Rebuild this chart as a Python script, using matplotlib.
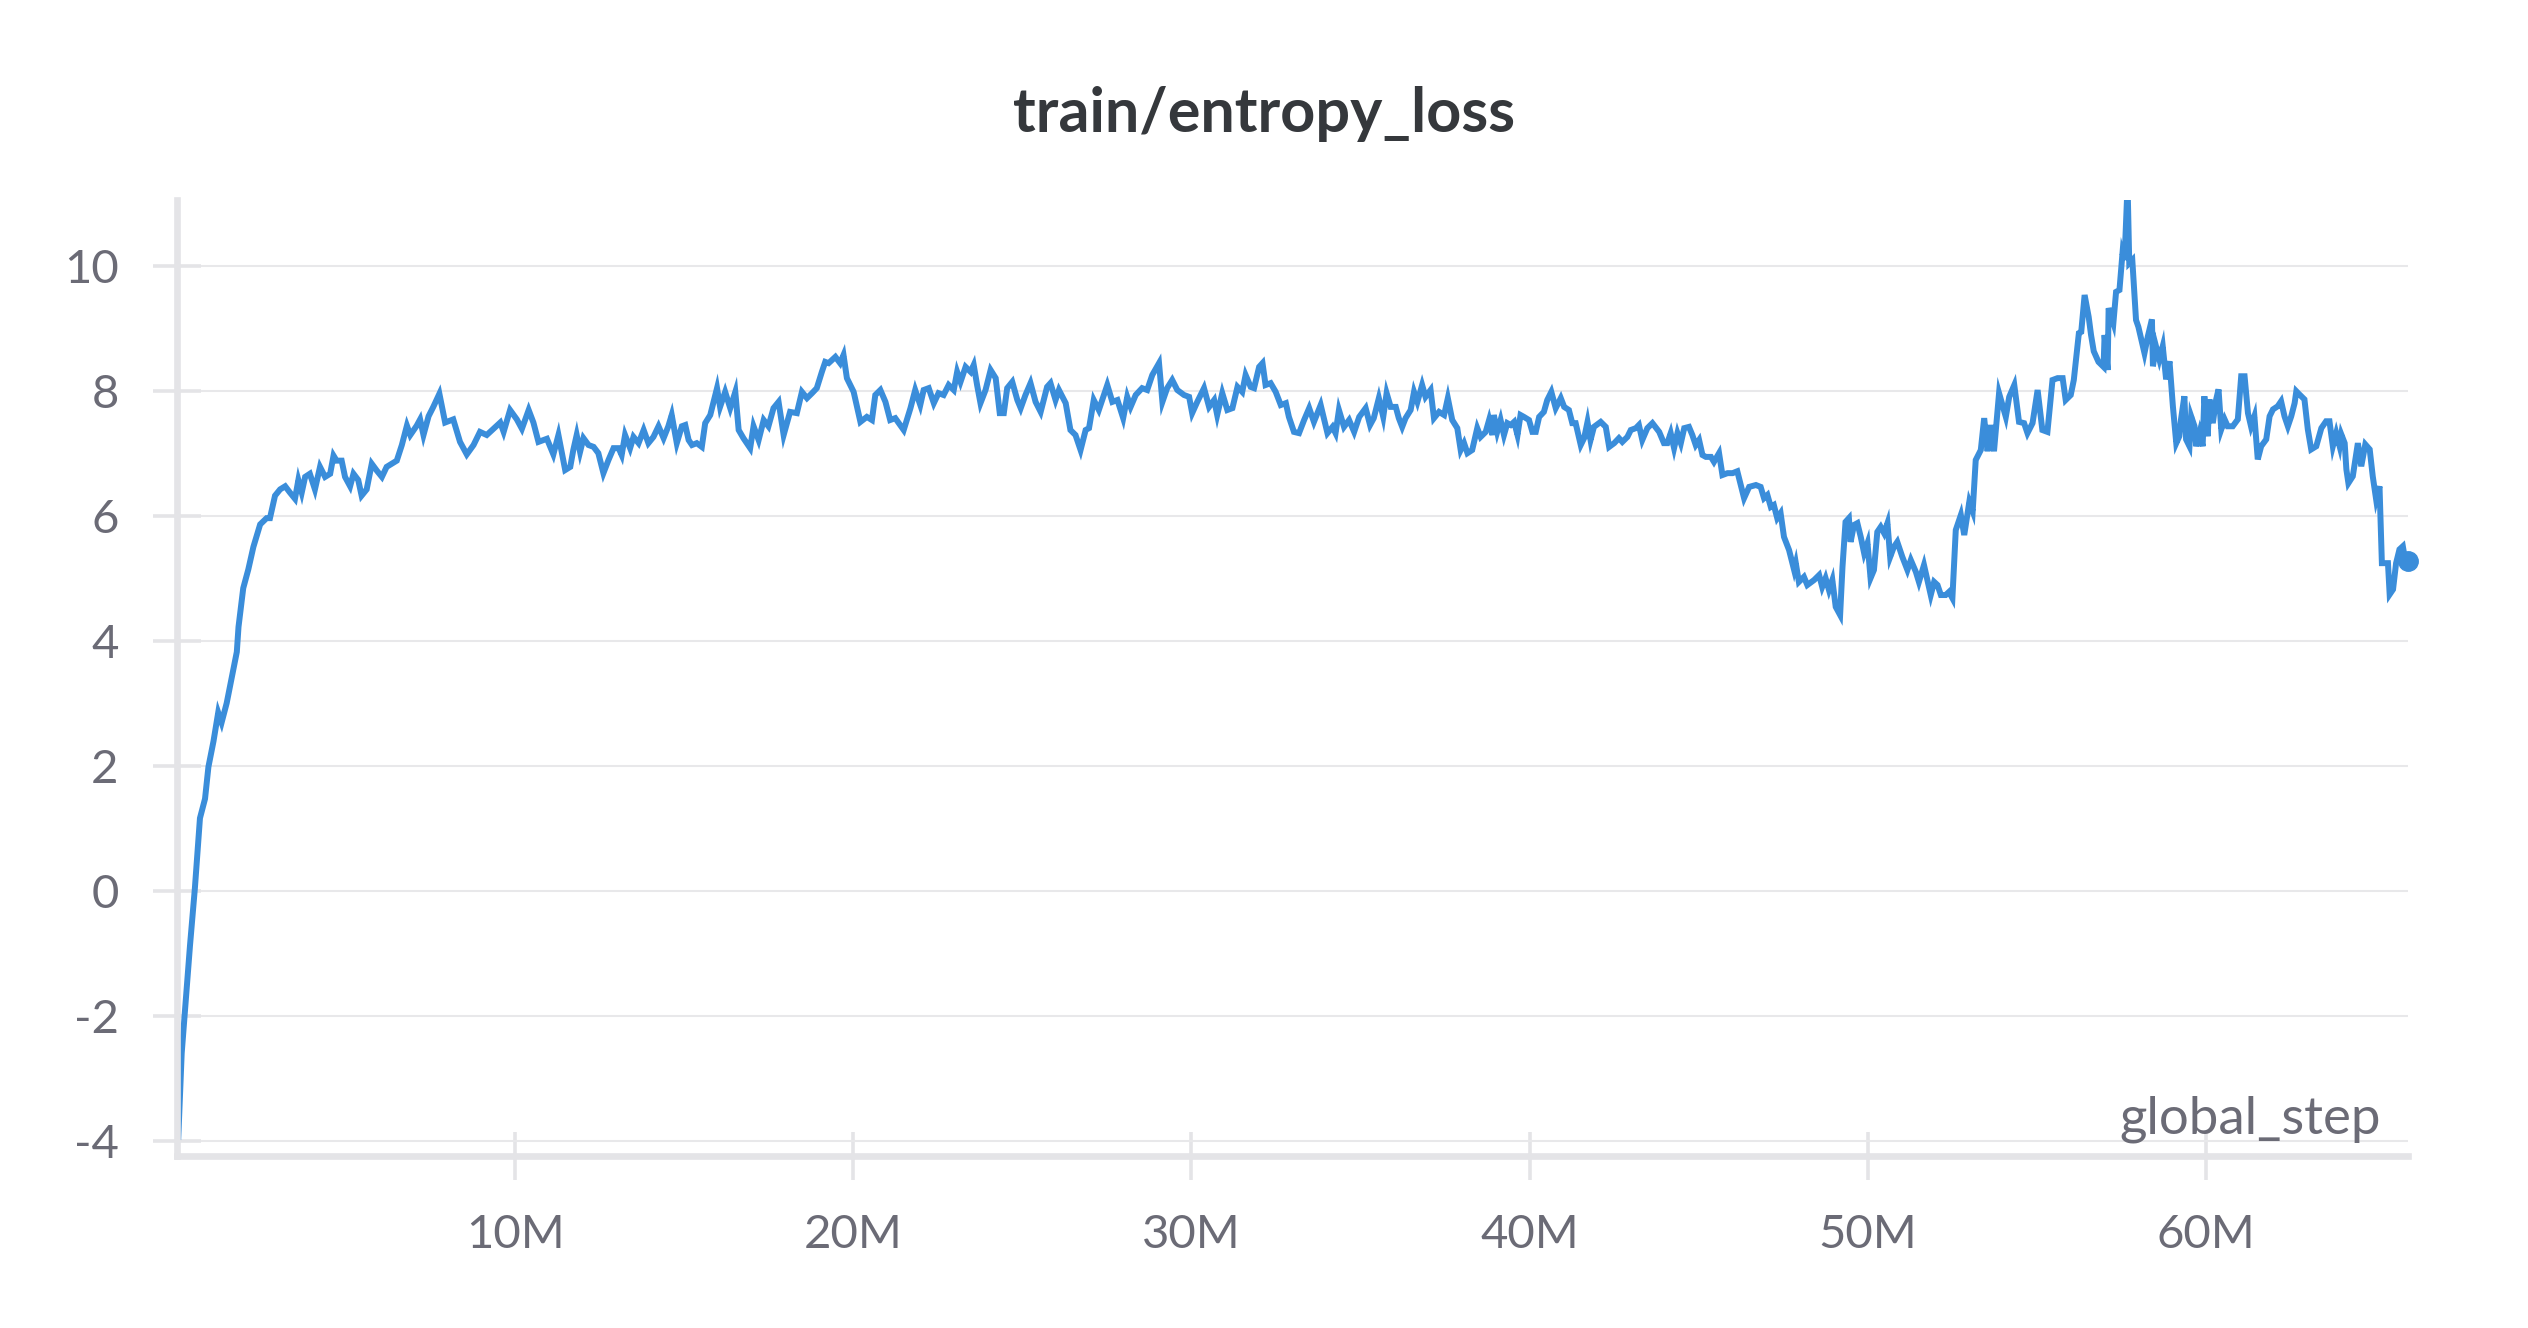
"""Line chart of train/entropy_loss against global_step (wandb style)."""
import matplotlib

matplotlib.use("Agg")
import matplotlib.pyplot as plt

# global_step in millions
steps = [
    0.04, 0.14, 0.24, 0.385, 0.53, 0.68, 0.83, 0.93, 1.08, 1.22, 1.32, 1.47, 1.62, 1.77, 1.82,
    1.96, 2.11, 2.26, 2.46, 2.65, 2.75, 2.9, 3.05, 3.2, 3.34, 3.49, 3.59, 3.69, 3.79, 3.93,
    4.08, 4.23, 4.38, 4.53, 4.63, 4.72, 4.87, 4.97, 5.12, 5.22, 5.36, 5.46, 5.61, 5.76, 5.91,
    6.06, 6.2, 6.35, 6.5, 6.65, 6.8, 6.9, 7.09, 7.19, 7.29, 7.44, 7.58, 7.76, 7.93, 8.17,
    8.37, 8.57, 8.77, 8.96, 9.16, 9.36, 9.56, 9.66, 9.85, 10.05, 10.2, 10.4, 10.54, 10.69, 10.94,
    11.13, 11.28, 11.48, 11.63, 11.72, 11.82, 11.92, 12.02, 12.17, 12.32, 12.46, 12.61, 12.76, 12.91, 13.06,
    13.15, 13.25, 13.4, 13.5, 13.65, 13.8, 13.94, 14.09, 14.24, 14.39, 14.53, 14.63, 14.78, 14.93, 15.03,
    15.13, 15.23, 15.37, 15.52, 15.62, 15.77, 15.92, 15.97, 16.06, 16.21, 16.36, 16.51, 16.61, 16.75, 16.95,
    17.05, 17.2, 17.35, 17.49, 17.64, 17.79, 17.94, 18.13, 18.33, 18.48, 18.63, 18.78, 18.92, 19.07, 19.17,
    19.27, 19.47, 19.61, 19.71, 19.81, 20.01, 20.21, 20.4, 20.55, 20.65, 20.8, 20.95, 21.09, 21.24, 21.49,
    21.69, 21.83, 21.98, 22.08, 22.23, 22.38, 22.52, 22.67, 22.82, 22.97, 23.07, 23.17, 23.32, 23.47, 23.56,
    23.66, 23.76, 23.91, 24.06, 24.21, 24.33, 24.45, 24.55, 24.7, 24.85, 24.95, 25.09, 25.24, 25.39, 25.54,
    25.73, 25.83, 25.98, 26.08, 26.28, 26.42, 26.57, 26.72, 26.87, 26.97, 27.11, 27.26, 27.36, 27.51, 27.66,
    27.81, 27.98, 28.1, 28.2, 28.35, 28.54, 28.69, 28.84, 29.04, 29.14, 29.28, 29.43, 29.58, 29.78, 29.93,
    30.02, 30.17, 30.37, 30.52, 30.67, 30.76, 30.91, 31.06, 31.21, 31.36, 31.5, 31.6, 31.75, 31.85, 32.0,
    32.1, 32.19, 32.34, 32.49, 32.64, 32.79, 32.88, 33.03, 33.18, 33.33, 33.48, 33.62, 33.82, 34.02, 34.17,
    34.26, 34.36, 34.51, 34.66, 34.81, 34.96, 35.15, 35.28, 35.39, 35.54, 35.67, 35.77, 35.89, 36.04, 36.13,
    36.23, 36.33, 36.48, 36.58, 36.68, 36.82, 36.92, 37.07, 37.17, 37.32, 37.47, 37.58, 37.71, 37.86, 37.96,
    38.06, 38.16, 38.3, 38.45, 38.55, 38.7, 38.8, 38.9, 38.94, 39.04, 39.14, 39.24, 39.34, 39.44, 39.54,
    39.64, 39.73, 39.83, 39.98, 40.08, 40.18, 40.28, 40.42, 40.52, 40.64, 40.77, 40.92, 41.02, 41.16, 41.26,
    41.36, 41.51, 41.61, 41.71, 41.8, 41.9, 42.1, 42.25, 42.35, 42.5, 42.64, 42.74, 42.89, 42.99, 43.14,
    43.23, 43.33, 43.48, 43.63, 43.83, 43.97, 44.07, 44.17, 44.27, 44.37, 44.47, 44.57, 44.71, 44.81, 44.91,
    45.01, 45.11, 45.21, 45.36, 45.45, 45.6, 45.7, 45.85, 46.0, 46.14, 46.34, 46.49, 46.69, 46.83, 46.93,
    47.03, 47.13, 47.22, 47.32, 47.42, 47.52, 47.67, 47.82, 47.87, 47.96, 48.11, 48.21, 48.41, 48.56, 48.65,
    48.75, 48.85, 48.95, 49.05, 49.18, 49.25, 49.34, 49.44, 49.49, 49.59, 49.69, 49.79, 49.89, 49.99, 50.08,
    50.18, 50.28, 50.38, 50.48, 50.58, 50.66, 50.77, 50.87, 51.02, 51.17, 51.27, 51.42, 51.51, 51.66, 51.76,
    51.86, 51.96, 52.06, 52.16, 52.3, 52.4, 52.5, 52.6, 52.75, 52.85, 53.0, 53.1, 53.19, 53.34, 53.44,
    53.54, 53.63, 53.73, 53.88, 54.08, 54.18, 54.33, 54.47, 54.62, 54.72, 54.87, 55.02, 55.16, 55.31, 55.46,
    55.61, 55.76, 55.85, 56.0, 56.09, 56.24, 56.31, 56.41, 56.53, 56.6, 56.68, 56.82, 56.97, 57.0, 57.09,
    57.12, 57.26, 57.34, 57.44, 57.53, 57.59, 57.68, 57.73, 57.82, 57.93, 58.0, 58.18, 58.28, 58.4, 58.43,
    58.52, 58.62, 58.72, 58.82, 58.92, 59.02, 59.12, 59.21, 59.26, 59.36, 59.41, 59.51, 59.56, 59.66, 59.71,
    59.81, 59.9, 59.95, 60.05, 60.1, 60.2, 60.3, 60.37, 60.45, 60.55, 60.64, 60.79, 60.94, 61.04, 61.14,
    61.24, 61.33, 61.43, 61.53, 61.63, 61.78, 61.88, 61.98, 62.12, 62.22, 62.32, 62.42, 62.52, 62.62, 62.67,
    62.76, 62.91, 63.01, 63.11, 63.26, 63.41, 63.55, 63.65, 63.75, 63.85, 63.95, 64.0, 64.1, 64.15, 64.21,
    64.34, 64.49, 64.59, 64.71, 64.84, 64.93, 65.03, 65.13, 65.2, 65.38, 65.43, 65.53, 65.62, 65.72, 65.82,
    65.87, 65.97,
]

entropy_loss = [
    -3.94, -2.6, -1.9, -0.88, 0.04, 1.16, 1.47, 1.98, 2.39, 2.85, 2.69, 3.0, 3.41, 3.82, 4.22,
    4.84, 5.14, 5.5, 5.86, 5.96, 5.96, 6.32, 6.42, 6.47, 6.37, 6.27, 6.57, 6.37, 6.62, 6.67,
    6.42, 6.78, 6.62, 6.67, 6.96, 6.88, 6.88, 6.62, 6.47, 6.67, 6.57, 6.32, 6.42, 6.83, 6.72,
    6.62, 6.78, 6.83, 6.88, 7.13, 7.44, 7.29, 7.44, 7.54, 7.29, 7.59, 7.74, 7.95, 7.49, 7.54,
    7.18, 6.98, 7.13, 7.34, 7.29, 7.39, 7.49, 7.34, 7.69, 7.54, 7.39, 7.69, 7.49, 7.18, 7.23,
    6.98, 7.29, 6.73, 6.78, 7.05, 7.29, 7.02, 7.24, 7.13, 7.1, 7.0, 6.68, 6.89, 7.08, 7.08,
    6.97, 7.29, 7.08, 7.26, 7.16, 7.37, 7.16, 7.26, 7.43, 7.24, 7.43, 7.61, 7.16, 7.43, 7.45,
    7.21, 7.13, 7.16, 7.1, 7.48, 7.61, 7.93, 8.04, 7.74, 7.98, 7.72, 7.98, 7.37, 7.24, 7.08,
    7.43, 7.21, 7.53, 7.43, 7.72, 7.82, 7.29, 7.66, 7.64, 7.98, 7.88, 7.96, 8.04, 8.3, 8.46,
    8.44, 8.54, 8.44, 8.57, 8.2, 7.98, 7.5, 7.58, 7.53, 7.93, 8.01, 7.82, 7.53, 7.56, 7.37,
    7.72, 8.01, 7.77, 8.01, 8.04, 7.8, 7.96, 7.93, 8.09, 8.01, 8.3, 8.14, 8.38, 8.3, 8.41,
    8.09, 7.8, 8.01, 8.33, 8.2, 7.64, 7.64, 8.04, 8.14, 7.85, 7.72, 7.93, 8.12, 7.82, 7.66,
    8.06, 8.12, 7.85, 8.01, 7.8, 7.37, 7.29, 7.05, 7.37, 7.4, 7.85, 7.69, 7.85, 8.09, 7.82,
    7.85, 7.56, 7.9, 7.74, 7.93, 8.04, 8.01, 8.25, 8.44, 7.82, 8.04, 8.17, 8.01, 7.93, 7.9,
    7.64, 7.82, 8.04, 7.74, 7.85, 7.61, 7.96, 7.69, 7.72, 8.06, 7.98, 8.25, 8.06, 8.04, 8.38,
    8.44, 8.09, 8.12, 7.98, 7.77, 7.8, 7.58, 7.34, 7.32, 7.53, 7.72, 7.5, 7.77, 7.32, 7.42,
    7.32, 7.69, 7.42, 7.53, 7.34, 7.58, 7.72, 7.45, 7.56, 7.88, 7.58, 7.96, 7.74, 7.74, 7.56,
    7.42, 7.56, 7.69, 7.98, 7.82, 8.09, 7.9, 8.01, 7.56, 7.66, 7.61, 7.88, 7.53, 7.4, 7.05,
    7.16, 7.0, 7.05, 7.4, 7.26, 7.34, 7.53, 7.29, 7.61, 7.34, 7.53, 7.29, 7.48, 7.45, 7.5,
    7.29, 7.61, 7.58, 7.53, 7.34, 7.34, 7.58, 7.66, 7.85, 7.98, 7.72, 7.88, 7.74, 7.69, 7.48,
    7.48, 7.13, 7.24, 7.5, 7.21, 7.42, 7.5, 7.42, 7.1, 7.16, 7.24, 7.18, 7.26, 7.37, 7.4,
    7.45, 7.21, 7.4, 7.48, 7.34, 7.16, 7.16, 7.32, 7.08, 7.32, 7.16, 7.4, 7.42, 7.29, 7.13,
    7.21, 6.97, 6.94, 6.94, 6.86, 7.0, 6.65, 6.68, 6.68, 6.71, 6.28, 6.46, 6.49, 6.46, 6.28,
    6.33, 6.14, 6.17, 5.96, 6.04, 5.66, 5.45, 5.13, 5.24, 4.94, 5.02, 4.89, 4.97, 5.05, 4.86,
    5.0, 4.81, 4.97, 4.54, 4.41, 5.18, 5.9, 5.96, 5.58, 5.85, 5.88, 5.66, 5.4, 5.56, 5.0,
    5.13, 5.74, 5.82, 5.72, 5.88, 5.34, 5.5, 5.58, 5.34, 5.13, 5.29, 5.1, 4.94, 5.21, 4.97,
    4.73, 4.94, 4.89, 4.73, 4.73, 4.78, 4.68, 5.77, 6.01, 5.69, 6.22, 6.07, 6.89, 7.05, 7.56,
    7.03, 7.45, 7.03, 7.96, 7.58, 7.9, 8.09, 7.5, 7.48, 7.32, 7.48, 8.01, 7.37, 7.34, 8.17,
    8.2, 8.2, 7.85, 7.93, 8.17, 8.92, 8.94, 9.53, 9.18, 8.89, 8.63, 8.46, 8.38, 8.89, 8.33,
    9.32, 9.08, 9.58, 9.61, 10.2, 10.09, 11.3, 10.04, 10.09, 9.13, 9.02, 8.6, 8.87, 9.14, 8.39,
    8.71, 8.5, 8.71, 8.18, 8.47, 7.75, 7.16, 7.27, 7.54, 7.91, 7.22, 7.11, 7.59, 7.43, 7.11,
    7.33, 7.11, 7.91, 7.27, 7.86, 7.48, 7.86, 8.02, 7.38, 7.54, 7.43, 7.43, 7.54, 8.23, 8.23,
    7.64, 7.43, 7.59, 6.9, 7.11, 7.22, 7.59, 7.7, 7.75, 7.83, 7.59, 7.43, 7.59, 7.8, 7.99,
    7.94, 7.86, 7.38, 7.06, 7.11, 7.4, 7.51, 7.51, 7.11, 7.32, 7.11, 7.3, 7.16, 6.74, 6.52,
    6.63, 7.16, 6.79, 7.14, 7.06, 6.63, 6.26, 6.47, 5.24, 5.24, 4.74, 4.82, 5.24, 5.46, 5.51,
    5.35, 5.27,
]

y_ticks = [-4, -2, 0, 2, 4, 6, 8, 10]
y_tick_labels = ["-4", "-2", "0", "2", "4", "6", "8", "10"]
x_ticks = [10, 20, 30, 40, 50, 60]
x_tick_labels = ["10M", "20M", "30M", "40M", "50M", "60M"]

LINE_BLUE = "#3a8dda"
AXIS_GREY = "#e4e4e7"
GRID_GREY = "#e8e8ea"
LABEL_GREY = "#6b6b76"
TITLE_DARK = "#35383c"

plt.rcParams["font.family"] = ["Lato", "DejaVu Sans"]

fig = plt.figure(figsize=(25.28, 13.28), dpi=100)
ax = fig.add_axes([0.0700, 0.1295, 0.8825, 0.7199])

ax.plot(steps, entropy_loss, color=LINE_BLUE, linewidth=4.3, solid_joinstyle="miter")
ax.plot(steps[-1:], entropy_loss[-1:], "o", color=LINE_BLUE, markersize=14, clip_on=False)

ax.set_xlim(0, steps[-1])
ax.set_ylim(-4.245, 11.05)

ax.set_yticks(y_ticks)
ax.set_yticklabels(y_tick_labels)
ax.set_xticks(x_ticks)
ax.set_xticklabels(x_tick_labels)

ax.grid(axis="y", color=GRID_GREY, linewidth=1.5)
ax.set_axisbelow(True)

for side in ("top", "right"):
    ax.spines[side].set_visible(False)
for side in ("left", "bottom"):
    ax.spines[side].set_color(AXIS_GREY)
    ax.spines[side].set_linewidth(4.8)

ax.tick_params(axis="both", direction="inout", length=34, width=2.6, color=AXIS_GREY,
               labelsize=34, labelcolor=LABEL_GREY, pad=25)

ax.text(0.988, 0.024, "global_step", transform=ax.transAxes, ha="right", va="baseline",
        fontsize=38, color=LABEL_GREY)

fig.text(0.5, 0.9006, "train/entropy_loss", ha="center", va="baseline",
         fontsize=44, fontweight="bold", color=TITLE_DARK)

fig.savefig("out.png", dpi=100, facecolor="white")
plt.close(fig)
